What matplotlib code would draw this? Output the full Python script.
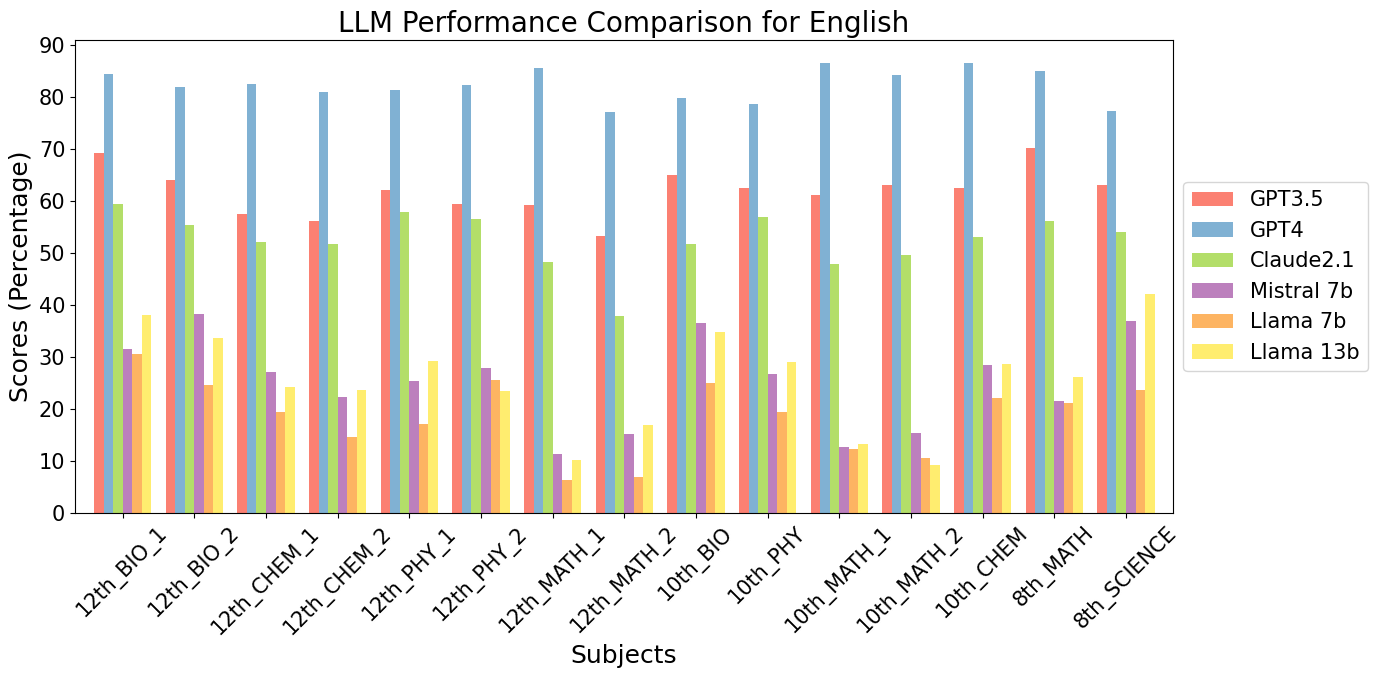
import numpy as np
import matplotlib
matplotlib.use('Agg')
import matplotlib.pyplot as plt

subjects = ['12th_BIO_1', '12th_BIO_2', '12th_CHEM_1', '12th_CHEM_2', '12th_PHY_1',
            '12th_PHY_2', '12th_MATH_1', '12th_MATH_2', '10th_BIO', '10th_PHY',
            '10th_MATH_1', '10th_MATH_2', '10th_CHEM', '8th_MATH', '8th_SCIENCE']

gpt35 = [69.2, 64.0, 57.5, 56.2, 62.1, 59.4, 59.2, 53.3, 65.0, 62.5, 61.2, 63.1, 62.5, 70.2, 63.1]
gpt4 = [84.4, 81.9, 82.5, 81.0, 81.3, 82.3, 85.6, 77.1, 79.8, 78.7, 86.5, 84.2, 86.5, 85.0, 77.3]
claude21 = [59.4, 55.4, 52.1, 51.7, 57.9, 56.5, 48.3, 37.9, 51.7, 56.9, 47.9, 49.6, 53.1, 56.2, 54.0]
mistral7b = [31.5, 38.3, 27.1, 22.3, 25.4, 27.9, 11.3, 15.2, 36.5, 26.7, 12.7, 15.4, 28.5, 21.5, 36.9]
llama7b = [30.6, 24.6, 19.4, 14.6, 17.1, 25.6, 6.3, 6.9, 25.0, 19.4, 12.3, 10.6, 22.1, 21.1, 23.7]
llama13b = [38.1, 33.7, 24.2, 23.7, 29.2, 23.4, 10.2, 16.9, 34.8, 29.0, 13.3, 9.2, 28.7, 26.2, 42.1]

models = ['GPT3.5', 'GPT4', 'Claude2.1', 'Mistral 7b', 'Llama 7b', 'Llama 13b']
scores = [gpt35, gpt4, claude21, mistral7b, llama7b, llama13b]
colors = ['#FB8072', '#80B1D3', '#B3DE69', '#BC80BD', '#FDB462', '#FFED6F']

x = np.arange(len(subjects))
w = 0.8 / len(models)

fig = plt.figure(figsize=(13.78, 6.78), dpi=100)
ax = fig.add_axes([75 / 1378, 1 - 513 / 678, (1173 - 75) / 1378, (513 - 40) / 678])

for i in range(len(models)):
    ax.bar(x + i * w, scores[i], w, color=colors[i], label=models[i])

ax.set_xticks(x + 2.5 * w)
ax.set_xticklabels(subjects, rotation=45, fontsize=15)
ax.tick_params(axis='y', labelsize=15)
ax.set_xlim(-w / 2 - 0.265, len(subjects) - 1 + 5.5 * w + 0.255)
ax.set_ylim(0, 91)
ax.set_yticks(range(0, 91, 10))

ax.set_title('LLM Performance Comparison for English', fontsize=20)
ax.set_xlabel('Subjects', fontsize=18)
ax.set_ylabel('Scores (Percentage)', fontsize=18)
ax.legend(loc='center left', bbox_to_anchor=(1, 0.5), fontsize=15)

fig.savefig('out.png', dpi=100)
